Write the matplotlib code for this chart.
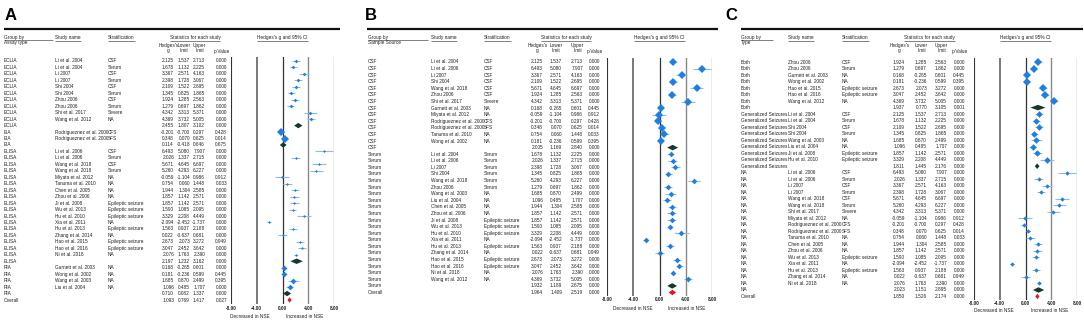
import matplotlib
matplotlib.use('Agg')
import matplotlib.pyplot as plt
from matplotlib.lines import Line2D
from matplotlib.patches import Polygon
import matplotlib.transforms as mtransforms

plt.rcParams['font.family'] = ['Liberation Sans', 'DejaVu Sans']

# ---------------- Panel A : Assay type ----------------
a_group = ['ECLIA'] * 11 + ['EIA'] * 3 + ['ELISA'] * 18 + ['RIA'] * 5 + ['Overall']
a_study = ['Li et al. 2004', 'Li et al. 2004', 'Li 2007', 'Li 2007', 'Shi 2004', 'Shi 2004',
           'Zhou 2006', 'Zhou 2006', 'Shi et al. 2017', 'Wang et al. 2012', '',
           'Rodrigueznez et al. 2000', 'Rodrigueznez et al. 2000', '',
           'Li et al. 2006', 'Li et al. 2006', 'Wang et al. 2018', 'Wang et al. 2018',
           'Miyata et al. 2012', 'Tanuma et al. 2010', 'Chen et al. 2005', 'Zhou et al. 2006',
           'Ji et al. 2008', 'Wu et al. 2013', 'Hu et al. 2010', 'Xia et al. 2011',
           'Hu et al. 2013', 'Zhang et al. 2014', 'Hao et al. 2015', 'Hao et al. 2016',
           'Ni et al. 2018', '',
           'Gurnett et al. 2003', 'Wong et al. 2002', 'Wang et al. 2003', 'Liu et al. 2004', '',
           '']
a_strat = ['CSF', 'Serum', 'CSF', 'Serum', 'CSF', 'Serum', 'CSF', 'Serum', 'Severe', 'NA', '',
           'CFS', 'SFS', '',
           'CSF', 'Serum', 'CSF', 'Serum', 'NA', 'NA', 'NA', 'NA',
           'Epileptic seizure', 'Epileptic seizure', 'Epileptic seizure', 'NA',
           'Epileptic seizure', 'NA', 'Epileptic seizure', 'Epileptic seizure', 'NA', '',
           'NA', 'NA', 'NA', 'NA', '', '']
a_g = [2.125, 1.678, 3.367, 2.398, 2.109, 1.345, 1.924, 1.279, 4.342, 4.369, 2.455,
       -0.201, 0.348, 0.114,
       6.493, 2.026, 5.671, 5.260, -0.059, 0.754, 1.944, 1.857, 1.857, 1.590, 3.329, -2.094,
       1.563, 0.022, 2.673, 3.047, 2.076, 2.197,
       0.168, 0.181, 1.685, 1.096, 0.710, 1.093]
a_lo = [1.537, 1.132, 2.571, 1.728, 1.522, 0.825, 1.285, 0.697, 3.313, 3.732, 1.807,
        -0.700, 0.070, -0.418,
        5.080, 1.337, 4.645, 4.293, -1.104, 0.060, 1.304, 1.142, 1.142, 1.085, 2.208, -2.452,
        0.937, -0.637, 2.073, 2.452, 1.763, 1.232,
        -0.265, -0.236, 0.870, 0.485, 0.082, 0.769]
a_hi = [2.713, 2.225, 4.163, 3.067, 2.695, 1.865, 2.563, 1.862, 5.371, 5.005, 3.102,
        0.297, 0.625, 0.646,
        7.907, 2.715, 6.697, 6.227, 0.986, 1.448, 2.585, 2.571, 2.571, 2.095, 4.449, -1.737,
        2.188, 0.681, 3.272, 3.642, 2.390, 3.162,
        0.601, 0.599, 2.499, 1.707, 1.337, 1.417]
a_p = [0.000] * 11 + [0.428, 0.014, 0.675] + [0.000] * 4 + [0.912, 0.033] + [0.000] * 8 + \
      [0.949] + [0.000] * 4 + [0.445, 0.395, 0.000, 0.000, 0.027, 0.000]

# ---------------- Panel B : Sample source ----------------
b_group = ['CSF'] * 14 + ['Serum'] * 21 + ['Overall']
b_study = ['Li et al. 2004', 'Li et al. 2006', 'Li 2007', 'Shi 2004', 'Wang et al. 2018',
           'Zhou 2006', 'Shi et al. 2017', 'Gurnett et al. 2003', 'Miyata et al. 2012',
           'Rodrigueznez et al. 2000', 'Rodrigueznez et al. 2000', 'Tanuma et al. 2010',
           'Wong et al. 2002', '',
           'Li et al. 2004', 'Li et al. 2006', 'Li 2007', 'Shi 2004', 'Wang et al. 2018',
           'Zhou 2006', 'Wang et al. 2003', 'Liu et al. 2004', 'Chen et al. 2005',
           'Zhou et al. 2006', 'Ji et al. 2008', 'Wu et al. 2013', 'Hu et al. 2010',
           'Xia et al. 2011', 'Hu et al. 2013', 'Zhang et al. 2014', 'Hao et al. 2015',
           'Hao et al. 2016', 'Ni et al. 2018', 'Wang et al. 2012', '', '']
b_strat = ['CSF'] * 6 + ['Severe', 'NA', 'NA', 'CFS', 'SFS', 'NA', 'NA', ''] + \
          ['Serum'] * 6 + ['NA', 'NA', 'NA', 'NA', 'Epileptic seizure', 'Epileptic seizure',
                           'Epileptic seizure', 'NA', 'Epileptic seizure', 'NA',
                           'Epileptic seizure', 'Epileptic seizure', 'NA', 'NA', '', '']
b_g = [2.125, 6.493, 3.367, 2.109, 5.671, 1.924, 4.342, 0.168, -0.059, -0.201, 0.348, 0.754,
       0.181, 2.005,
       1.678, 2.026, 2.398, 1.345, 5.260, 1.279, 1.685, 1.096, 1.944, 1.857, 1.857, 1.590,
       3.329, -2.094, 1.563, 0.022, 2.673, 3.047, 2.076, 4.369, 1.932, 1.964]
b_lo = [1.537, 5.080, 2.571, 1.522, 4.645, 1.285, 3.313, -0.265, -1.104, -0.700, 0.070, 0.060,
        -0.236, 1.169,
        1.132, 1.337, 1.728, 0.825, 4.293, 0.697, 0.870, 0.485, 1.304, 1.142, 1.142, 1.085,
        2.208, -2.452, 0.937, -0.637, 2.073, 2.452, 1.763, 3.732, 1.189, 1.409]
b_hi = [2.713, 7.907, 4.163, 2.695, 6.697, 2.563, 5.371, 0.601, 0.986, 0.297, 0.625, 1.448,
        0.599, 2.840,
        2.225, 2.715, 3.067, 1.865, 6.227, 1.862, 2.499, 1.707, 2.585, 2.571, 2.571, 2.095,
        4.449, -1.737, 2.188, 0.681, 3.272, 3.642, 2.390, 5.005, 2.675, 2.519]
b_p = [0.000] * 7 + [0.445, 0.912, 0.428, 0.014, 0.033, 0.395, 0.000] + \
      [0.000] * 15 + [0.949] + [0.000] * 6

# ---------------- Panel C : Type ----------------
c_group = ['Both'] * 8 + ['Generalized Seizures'] * 9 + ['NA'] * 19 + ['Overall']
c_study = ['Zhou 2006', 'Zhou 2006', 'Gurnett et al. 2003', 'Wong et al. 2002',
           'Hao et al. 2015', 'Hao et al. 2016', 'Wang et al. 2012', '',
           'Li et al. 2004', 'Li et al. 2004', 'Shi 2004', 'Shi 2004', 'Wang et al. 2003',
           'Liu et al. 2004', 'Ji et al. 2008', 'Hu et al. 2010', '',
           'Li et al. 2006', 'Li et al. 2006', 'Li 2007', 'Li 2007', 'Wang et al. 2018',
           'Wang et al. 2018', 'Shi et al. 2017', 'Miyata et al. 2012',
           'Rodrigueznez et al. 2000', 'Rodrigueznez et al. 2000', 'Tanuma et al. 2010',
           'Chen et al. 2005', 'Zhou et al. 2006', 'Wu et al. 2013', 'Xia et al. 2011',
           'Hu et al. 2013', 'Zhang et al. 2014', 'Ni et al. 2018', '', '']
c_strat = ['CSF', 'Serum', 'NA', 'NA', 'Epileptic seizure', 'Epileptic seizure', 'NA', '',
           'CSF', 'Serum', 'CSF', 'Serum', 'NA', 'NA', 'Epileptic seizure',
           'Epileptic seizure', '',
           'CSF', 'Serum', 'CSF', 'Serum', 'CSF', 'Serum', 'Severe', 'NA', 'CFS', 'SFS', 'NA',
           'NA', 'NA', 'Epileptic seizure', 'NA', 'Epileptic seizure', 'NA', 'NA', '', '']
c_g = [1.924, 1.279, 0.168, 0.181, 2.673, 3.047, 4.369, 1.937,
       2.125, 1.678, 2.109, 1.345, 1.685, 1.096, 1.857, 3.329, 1.811,
       6.493, 2.026, 3.367, 2.398, 5.671, 5.260, 4.342, -0.059, -0.201, 0.348, 0.754, 1.944,
       1.857, 1.590, -2.094, 1.563, 0.022, 2.076, 2.023, 1.850]
c_lo = [1.285, 0.697, -0.265, -0.236, 2.073, 2.452, 3.732, 0.770,
        1.537, 1.132, 1.522, 0.825, 0.870, 0.485, 1.142, 2.208, 1.445,
        5.080, 1.337, 2.571, 1.728, 4.645, 4.293, 3.313, -1.104, -0.700, 0.070, 0.060, 1.304,
        1.142, 1.085, -2.452, 0.937, -0.637, 1.763, 1.151, 1.526]
c_hi = [2.563, 1.862, 0.601, 0.599, 3.272, 3.642, 5.005, 3.105,
        2.713, 2.225, 2.695, 1.865, 2.499, 1.707, 2.571, 4.449, 2.176,
        7.907, 2.715, 4.163, 3.067, 6.697, 6.227, 5.371, 0.986, 0.297, 0.625, 1.448, 2.585,
        2.571, 2.095, -1.737, 2.188, 0.681, 2.390, 2.895, 2.174]
c_p = [0.000, 0.000, 0.445, 0.395, 0.000, 0.000, 0.000, 0.001] + [0.000] * 9 + \
      [0.000] * 7 + [0.912, 0.428, 0.014, 0.033] + [0.000] * 5 + [0.949, 0.000, 0.000, 0.000]

ticks = [-8, -4, 0, 4, 8]
tick_labels = ['-8.00', '-4.00', '0.00', '4.00', '8.00']

# ---------------- drawing ----------------
W, H = 1084, 320
fig = plt.figure(figsize=(W / 100, H / 100), dpi=100)
fig.patch.set_facecolor('white')
FS = 3.45
TXT = '#222222'
MARK = '#1f7fe0'
CI = '#8ebbe9'
SUB = '#163630'
OVR = '#e3161b'
VL = [('#333333', 0.8), ('#555555', 1.1), ('#333333', 0.9), ('#888888', 1.0), ('#a8a8a8', 1.0)]


def fx(x):
    return x / W


def fy(y):
    return 1 - y / H


def hline(x0, x1, y, lw=0.5, color=TXT):
    fig.add_artist(Line2D([fx(x0), fx(x1)], [fy(y), fy(y)], transform=fig.transFigure,
                          color=color, lw=lw, solid_capstyle='butt'))


def draw_panel(letter, gtitle, group, study, strat, g, lo, hi, p, L):
    n = len(group)
    s = (L['y1'] - L['y0']) / (n - 1)
    top = L['y0'] - 0.55 * s
    bot = L['y1'] + 0.6 * s
    ax = fig.add_axes([fx(L['xm8']), fy(bot), (L['xp8'] - L['xm8']) / W, (bot - top) / H])
    ax.set_xlim(-8, 8)
    ax.set_ylim(n - 1 + 0.6, -0.55)
    ax.axis('off')
    for t, (c, lw) in zip(ticks, VL):
        ax.axvline(t, color=c, lw=lw, zorder=1)
    bt = mtransforms.blended_transform_factory(ax.transData, fig.transFigure)
    for t, lab in zip(ticks, tick_labels):
        ax.text(t, fy(L['yt']), lab, transform=bt, ha='center', va='center', fontsize=FS,
                color=TXT, fontweight='bold')
    ax.text(L['dx'][0], fy(L['yd']), 'Decreased in NSE', transform=bt, ha='center', va='center',
            fontsize=FS, color=TXT)
    ax.text(L['dx'][1], fy(L['yd']), 'Increased in NSE', transform=bt, ha='center', va='center',
            fontsize=FS, color=TXT)

    # marker sizes from group counts
    counts = {}
    for gr, st in zip(group, study):
        if st:
            counts[gr] = counts.get(gr, 0) + 1
    kmin = min(counts.values())

    rt = mtransforms.blended_transform_factory(fig.transFigure, ax.transData)
    for i in range(n):
        ax.text(fx(L['xg']), i, group[i], transform=rt, ha='left', va='center', fontsize=FS, color=TXT)
        if study[i]:
            ax.text(fx(L['xs']), i, study[i], transform=rt, ha='left', va='center', fontsize=FS, color=TXT)
            ax.text(fx(L['xt']), i, strat[i], transform=rt, ha='left', va='center', fontsize=FS, color=TXT)
        for key, val in (('rg', g[i]), ('rl', lo[i]), ('rh', hi[i]), ('rp', p[i])):
            ax.text(fx(L[key]), i, '%.3f' % val, transform=rt, ha='right', va='center',
                    fontsize=FS, color=TXT)
        if study[i]:
            ms = L['ms'] * (kmin / counts[group[i]]) ** 0.5
            ax.plot([lo[i], hi[i]], [i, i], color=CI, lw=0.8, zorder=2, solid_capstyle='butt')
            ax.plot([g[i]], [i], marker='D', color=MARK, ms=ms, mew=0, zorder=3)
        else:
            col = OVR if group[i] == 'Overall' else SUB
            h = 0.42
            ax.add_patch(Polygon([[lo[i], i], [g[i], i - h], [hi[i], i], [g[i], i + h]],
                                 closed=True, color=col, lw=0, zorder=3))

    # panel letter and top rule
    fig.text(fx(L['xl']), fy(15), letter, fontsize=12, fontweight='bold', ha='left', va='center')
    hline(L['lx0'], L['lx1'], 29, lw=1.6, color='#111111')

    # header
    ty = 37.5
    fig.text(fx(L['xg']), fy(ty), 'Group by', fontsize=FS, ha='left', va='center', color=TXT)
    hline(L['xg'], L['gu'], ty + 2.2, lw=0.4)
    fig.text(fx(L['xg']), fy(ty + 5), gtitle, fontsize=FS, ha='left', va='center', color=TXT)
    heads = [(L['xs'], 'Study name', 'left'), (L['xt'], 'Stratification', 'left')]
    texts = []
    for x, t, ha in heads:
        texts.append(fig.text(fx(x), fy(ty), t, fontsize=FS, ha=ha, va='center', color=TXT))
    sc = (L['rg'] - 11 + L['rp']) / 2
    texts.append(fig.text(fx(sc), fy(ty), 'Statistics for each study', fontsize=FS, ha='center',
                          va='center', color=TXT))
    zc = L['xm8'] + (L['xp8'] - L['xm8']) / 2
    texts.append(fig.text(fx(zc), fy(ty), "Hedges's g and 95% CI", fontsize=FS, ha='center',
                          va='center', color=TXT))
    for key, t in (('rg', "Hedges's\ng"), ('rl', 'Lower\nlimit'), ('rh', 'Upper\nlimit')):
        fig.text(fx(L[key] - 5.5), fy(48), t, fontsize=FS, ha='center', va='center', color=TXT,
                 linespacing=1.0)
    fig.text(fx(L['rp'] - 5.5), fy(51), 'p-Value', fontsize=FS, ha='center', va='center', color=TXT)
    return texts


layouts = {
    'A': dict(xl=5, lx0=4, lx1=340, xg=4, gu=53, xs=55, xt=108, rg=174, rl=190, rh=205, rp=227,
              xm8=231, xp8=334, y0=61, y1=300, ms=4.2, yt=309, yd=317, dx=(-5.0, 3.5)),
    'B': dict(xl=365, lx0=367, lx1=718, xg=368, gu=428, xs=431, xt=484, rg=543, rl=562, rh=583,
              rp=600, xm8=607, xp8=712, y0=62, y1=292.5, ms=3.6, yt=299.5, yd=308, dx=(-4.0, 4.2)),
    'C': dict(xl=725, lx0=741, lx1=1083, xg=741, gu=773, xs=788, xt=842, rg=905, rl=927, rh=947,
              rp=965, xm8=974, xp8=1077, y0=62, y1=296.5, ms=3.6, yt=303.5, yd=311, dx=(-5.0, 3.7)),
}

all_texts = []
all_texts += draw_panel('A', 'Assay type', a_group, a_study, a_strat, a_g, a_lo, a_hi, a_p, layouts['A'])
all_texts += draw_panel('B', 'Sample Source', b_group, b_study, b_strat, b_g, b_lo, b_hi, b_p, layouts['B'])
all_texts += draw_panel('C', 'Type', c_group, c_study, c_strat, c_g, c_lo, c_hi, c_p, layouts['C'])

# underline headers
fig.canvas.draw()
r = fig.canvas.get_renderer()
for t in all_texts:
    bb = t.get_window_extent(r)
    yy = H - (bb.y0 - 0.6)
    hline(bb.x0, bb.x1, yy, lw=0.4)

fig.savefig('out.png', dpi=100, facecolor='white')
